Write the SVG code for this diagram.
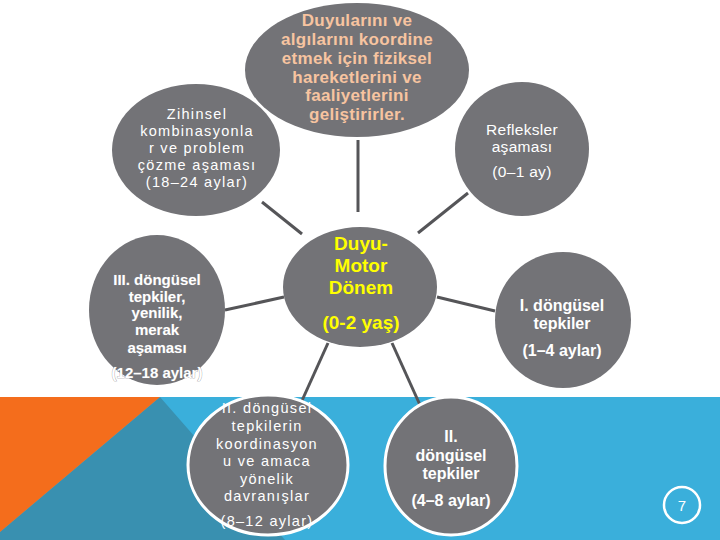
<svg xmlns="http://www.w3.org/2000/svg" width="720" height="540" viewBox="0 0 720 540">
<style>
.node{fill:#737377}
.ring{stroke:#ffffff;stroke-width:3}
.t{font-family:"Liberation Sans",Arial,sans-serif;fill:#ffffff;text-anchor:middle}
.b{font-weight:bold}
.r{font-size:14.5px;letter-spacing:1.3px}
.c line{stroke:#555558;stroke-width:3}
</style>
<rect x="0" y="0" width="720" height="540" fill="#ffffff"/>
<rect x="0" y="397" width="720" height="143" fill="#3AAFDB"/>
<polygon points="160,397 285,540 0,540 0,532" fill="#3990B0"/>
<polygon points="0,397 160,397 0,532" fill="#F46D1C"/>
<g class="c" id="connectors">
<line x1="358" y1="140" x2="358" y2="212"/>
<line x1="262" y1="202" x2="302" y2="234"/>
<line x1="418" y1="233" x2="468" y2="193"/>
<line x1="225" y1="310" x2="284" y2="297"/>
<line x1="437" y1="297" x2="495" y2="311"/>
<line x1="328" y1="343" x2="300" y2="405"/>
<line x1="392" y1="343" x2="420" y2="405"/>
</g>
<g id="top">
<ellipse class="node" cx="357" cy="70" rx="112" ry="67"/>
<text class="t b" font-size="17" letter-spacing="0.3" style="fill:#F7C4A0"><tspan x="357" y="26">Duyularını ve</tspan><tspan x="357" y="45">algılarını koordine</tspan><tspan x="357" y="64">etmek için fiziksel</tspan><tspan x="357" y="83">hareketlerini ve</tspan><tspan x="357" y="101">faaliyetlerini</tspan><tspan x="357" y="120">geliştirirler.</tspan></text>
</g>
<g id="zihinsel">
<ellipse class="node" cx="196" cy="150" rx="84" ry="66"/>
<text class="t r"><tspan x="197" y="119">Zihinsel</tspan><tspan x="197" y="136">kombinasyonla</tspan><tspan x="197" y="153">r ve problem</tspan><tspan x="197" y="170">çözme aşaması</tspan><tspan x="197" y="187">(18–24 aylar)</tspan></text>
</g>
<g id="refleksler">
<circle class="node" cx="522" cy="149" r="67"/>
<text class="t" font-size="15.5" letter-spacing="0.3"><tspan x="522" y="135">Refleksler</tspan><tspan x="522" y="152">aşaması</tspan><tspan x="522" y="177">(0–1 ay)</tspan></text>
</g>
<g id="center">
<ellipse class="node" cx="360" cy="287" rx="77" ry="60"/>
<text class="t b" font-size="19" style="fill:#FFFF00"><tspan x="361" y="250">Duyu-</tspan><tspan x="361" y="272">Motor</tspan><tspan x="361" y="294">Dönem</tspan><tspan x="361" y="329">(0-2 yaş)</tspan></text>
</g>
<g id="iii">
<ellipse class="node" cx="157" cy="310" rx="68" ry="75"/>
<text class="t b" font-size="15" stroke="#8a8a8e" stroke-width="0.6" paint-order="stroke"><tspan x="157" y="285">III. döngüsel</tspan><tspan x="157" y="302">tepkiler,</tspan><tspan x="157" y="318">yenilik,</tspan><tspan x="157" y="335">merak</tspan><tspan x="157" y="353">aşaması</tspan><tspan x="157" y="378">(12–18 aylar)</tspan></text>
</g>
<g id="i">
<circle class="node" cx="563" cy="320" r="68"/>
<text class="t b" font-size="16"><tspan x="562" y="311">I. döngüsel</tspan><tspan x="562" y="329">tepkiler</tspan><tspan x="562" y="356">(1–4 aylar)</tspan></text>
</g>
<g id="ii-koord">
<ellipse class="node ring" cx="268" cy="465" rx="80" ry="70"/>
<text class="t r"><tspan x="267" y="413">II. döngüsel</tspan><tspan x="267" y="431">tepkilerin</tspan><tspan x="267" y="449">koordinasyon</tspan><tspan x="267" y="466">u ve amaca</tspan><tspan x="267" y="484">yönelik</tspan><tspan x="267" y="501">davranışlar</tspan><tspan x="267" y="526">(8–12 aylar)</tspan></text>
</g>
<g id="ii">
<ellipse class="node ring" cx="451" cy="466" rx="66" ry="69"/>
<text class="t b" font-size="16"><tspan x="451" y="442">II.</tspan><tspan x="451" y="461">döngüsel</tspan><tspan x="451" y="479">tepkiler</tspan><tspan x="451" y="506">(4–8 aylar)</tspan></text>
</g>
<g id="page">
<circle cx="682" cy="505" r="18" fill="none" stroke="#ffffff" stroke-width="2.5"/>
<text class="t" x="682" y="511" font-size="15">7</text>
</g>
</svg>
